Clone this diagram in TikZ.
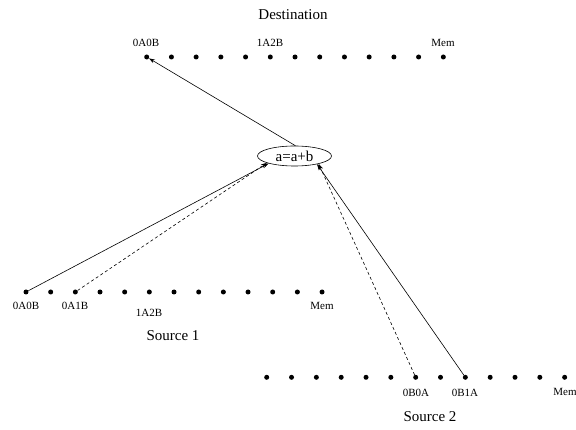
\documentclass[tikz,border=0pt]{standalone}
\usepackage{fontspec}
\setmainfont{Liberation Serif}
\usetikzlibrary{shapes.geometric,arrows.meta}
\begin{document}
\begin{tikzpicture}[x=1pt,y=-1pt,
  memdot/.style={circle,fill=black,inner sep=0pt,minimum size=5pt},
  lbl/.style={font=\fontsize{11}{13}\selectfont,inner sep=0pt},
  ttl/.style={font=\fontsize{15}{17}\selectfont,inner sep=0pt},
  arr/.style={-{Stealth[length=6pt,width=4pt]},line width=0.6pt},
  darr/.style={arr,dashed,dash pattern=on 3pt off 2.5pt}]
\useasboundingbox (0,0) rectangle (576,430);
% destination
\foreach \i in {1,...,13}
  \node[memdot] (d\i) at ({146.7+24.72*(\i-1)},57) {};
\node[ttl] (dtitle) at (293,15) {Destination};
\node[lbl] (dl1) at (146,43) {0A0B};
\node[lbl] (dl2) at (270,43) {1A2B};
\node[lbl] (dl3) at (443,43) {Mem};
% source 1
\foreach \i in {1,...,13}
  \node[memdot] (s\i) at ({26+24.67*(\i-1)},292) {};
\node[ttl] (stitle) at (173,336) {Source 1};
\node[lbl] (sl1) at (26,306) {0A0B};
\node[lbl] (sl2) at (75,306) {0A1B};
\node[lbl] (sl3) at (149,313) {1A2B};
\node[lbl] (sl4) at (322,306) {Mem};
% source 2
\foreach \i in {1,...,13}
  \node[memdot] (t\i) at ({266.7+24.83*(\i-1)},377.3) {};
\node[ttl] (ttitle) at (430,417) {Source 2};
\node[lbl] (tl1) at (416,393.3) {0B0A};
\node[lbl] (tl2) at (465,393.3) {0B1A};
\node[lbl] (tl3) at (565,392) {Mem};
% operation
\node[draw,ellipse,minimum width=74pt,minimum height=20pt,inner sep=0pt,
  font=\fontsize{15}{17}\selectfont,line width=0.6pt] (op) at (294.5,156) {a=a+b};
% connectors
\draw[arr] (op.85) -- (d1);
\draw[arr] (s1) -- (op.196);
\draw[darr] (s3) -- (op.194);
\draw[darr] (t7) -- (op.342);
\draw[arr] (t9) -- (op.340);
\end{tikzpicture}
\end{document}
